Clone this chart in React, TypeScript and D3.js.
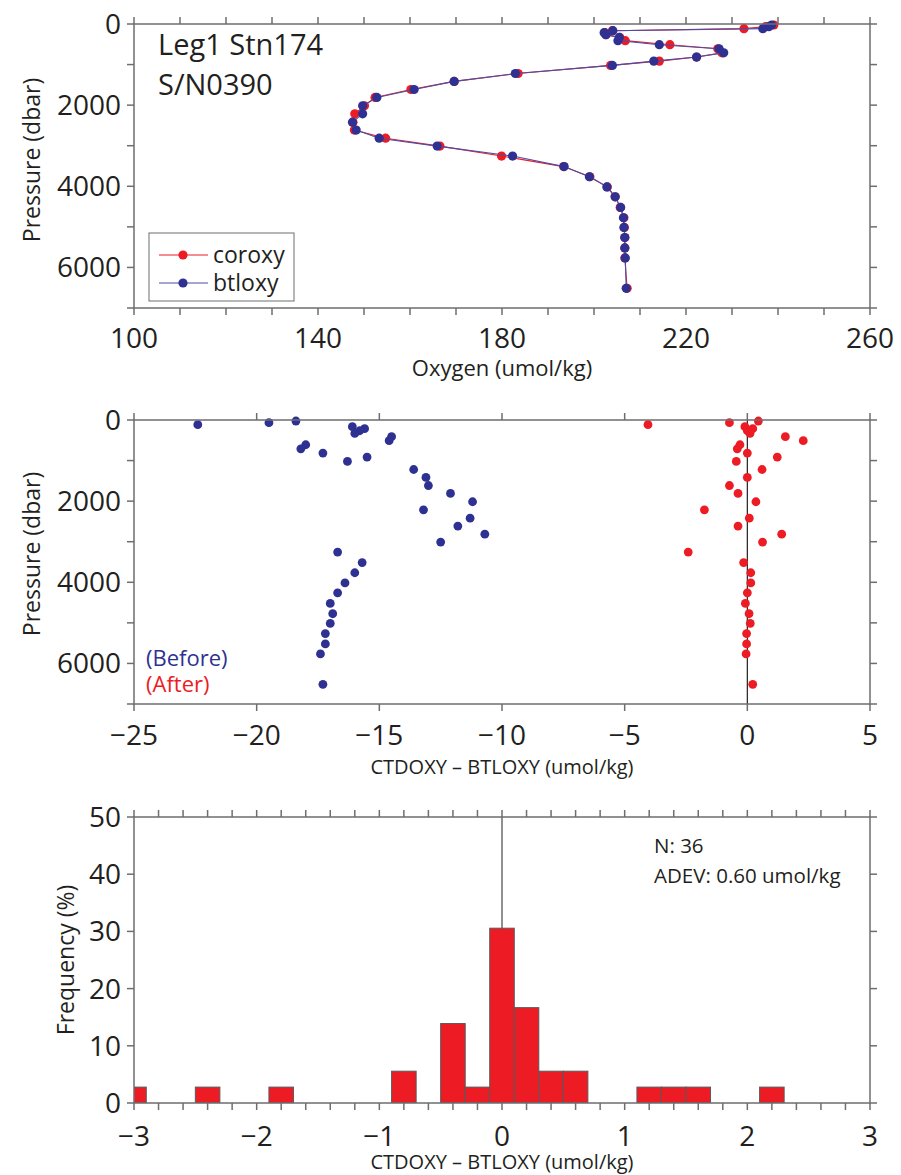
import React from "react";
import * as d3 from "d3";

// ---------- data ----------
const pressure = [25, 65, 115, 165, 215, 265, 330, 410, 510, 610, 710, 815, 915, 1020, 1220, 1415, 1615, 1810, 2015, 2215, 2420, 2615, 2815, 3010, 3255, 3515, 3765, 4015, 4260, 4520, 4775, 5015, 5265, 5520, 5765, 6515];
const btloxy = [238.6, 238.0, 236.7, 204.1, 202.2, 202.6, 205.5, 205.2, 214.2, 227.2, 228.2, 222.3, 213.0, 204.0, 182.9, 169.6, 160.9, 152.8, 149.7, 149.7, 147.5, 148.3, 153.3, 165.9, 182.3, 193.5, 199.0, 202.8, 204.6, 205.8, 206.4, 206.5, 206.7, 206.7, 206.8, 207.0];
const coroxy = [239.1, 237.3, 232.6, 204.0, 202.4, 202.6, 205.6, 206.8, 216.5, 226.9, 227.8, 222.3, 214.2, 203.6, 183.5, 169.6, 160.2, 152.4, 150.1, 148.0, 147.6, 147.9, 154.7, 166.5, 179.9, 193.4, 199.1, 202.9, 204.6, 205.7, 206.5, 206.6, 206.7, 206.7, 206.7, 207.2];
const diffBefore = [-18.4, -19.5, -22.4, -16.1, -15.6, -15.8, -16.0, -14.5, -14.6, -18.0, -18.2, -17.3, -15.5, -16.3, -13.6, -13.1, -13.0, -12.1, -11.2, -13.2, -11.3, -11.8, -10.7, -12.5, -16.7, -15.7, -16.0, -16.4, -16.7, -17.0, -16.9, -17.0, -17.2, -17.2, -17.4, -17.3];
const diffAfter = [0.45, -0.73, -4.05, -0.1, 0.22, 0.0, 0.11, 1.55, 2.28, -0.3, -0.41, 0.0, 1.22, -0.45, 0.6, 0.0, -0.73, -0.38, 0.35, -1.75, 0.08, -0.38, 1.4, 0.62, -2.41, -0.15, 0.14, 0.14, 0.0, -0.08, 0.07, 0.12, -0.03, -0.03, -0.05, 0.22];

const histCenters = [-3.0, -2.4, -1.8, -0.8, -0.4, -0.2, 0.0, 0.2, 0.4, 0.6, 1.2, 1.4, 1.6, 2.2];
const histFreq = [2.78, 2.78, 2.78, 5.56, 13.89, 2.78, 30.56, 16.67, 5.56, 5.56, 2.78, 2.78, 2.78, 2.78];
const histBinWidth = 0.2;

const oxyTickLabels = [100, 140, 180, 220, 260];
const pressTickLabels = [0, 2000, 4000, 6000];
const diffTickLabels = [-25, -20, -15, -10, -5, 0, 5];
const histXTickLabels = [-3, -2, -1, 0, 1, 2, 3];
const histYTickLabels = [0, 10, 20, 30, 40, 50];

// ---------- style ----------
const RED = "#ed1c24";
const BLUE = "#2e3192";
const AXIS = "#6d6e71";
const TXT = "#231f20";
const FONT = "'Open Sans', sans-serif";
const L = 134, R = 870, TICK = 7;

const fmt = (v: number) => (v < 0 ? "\u2212" + Math.abs(v) : String(v));

function Frame({ x, y, xTicks, yTicks }: any) {
  const [x0, x1] = x.range();
  const [y0, y1] = y.range();
  const top = Math.min(y0, y1), bot = Math.max(y0, y1);
  return (
    <g stroke={AXIS} strokeWidth={1.5} fill="none">
      <rect x={x0} y={top} width={x1 - x0} height={bot - top} />
      {xTicks.map((t: number, i: number) => (
        <g key={"x" + i}>
          <line x1={x(t)} x2={x(t)} y1={top} y2={top - TICK} />
          <line x1={x(t)} x2={x(t)} y1={bot} y2={bot + TICK} />
        </g>
      ))}
      {yTicks.map((t: number, i: number) => (
        <g key={"y" + i}>
          <line x1={x0} x2={x0 - TICK} y1={y(t)} y2={y(t)} />
          <line x1={x1} x2={x1 + TICK} y1={y(t)} y2={y(t)} />
        </g>
      ))}
    </g>
  );
}

function TickLabels({ x, y, xLabels, yLabels, xBase }: any) {
  return (
    <g fill={TXT} fontFamily={FONT} fontSize={28}>
      {xLabels.map((t: number) => (
        <text key={"xl" + t} x={x(t)} y={xBase} textAnchor="middle">{fmt(t)}</text>
      ))}
      {yLabels.map((t: number) => (
        <text key={"yl" + t} x={121} y={y(t) + 10} textAnchor="end">{fmt(t)}</text>
      ))}
    </g>
  );
}

export default function App() {
  // Panel 1
  const x1 = d3.scaleLinear().domain([100, 260]).range([L, R]);
  const y1 = d3.scaleLinear().domain([0, 7000]).range([24, 308]);
  // Panel 2
  const x2 = d3.scaleLinear().domain([-25, 5]).range([L, R]);
  const y2 = d3.scaleLinear().domain([0, 7000]).range([420, 704]);
  // Panel 3
  const x3 = d3.scaleLinear().domain([-3, 3]).range([L, R]);
  const y3 = d3.scaleLinear().domain([0, 50]).range([1103, 817]);

  const lineRed = d3.line<number>().x((_, i) => x1(coroxy[i])).y((_, i) => y1(pressure[i]));
  const lineBlue = d3.line<number>().x((_, i) => x1(btloxy[i])).y((_, i) => y1(pressure[i]));

  return (
    <svg width={901} height={1175} style={{ display: "block", position: "absolute", left: 0, top: 0 }}>
      <rect width={901} height={1175} fill="#fff" />
      <defs>
        <clipPath id="histclip">
          <rect x={L} y={817} width={R - L} height={1103 - 817} />
        </clipPath>
      </defs>

      {/* ---------- Panel 1 ---------- */}
      <path d={lineRed(pressure) || ""} fill="none" stroke={RED} strokeWidth={1.1} />
      {pressure.map((p, i) => (
        <circle key={"r" + i} cx={x1(coroxy[i])} cy={y1(p)} r={4.6} fill={RED} />
      ))}
      <path d={lineBlue(pressure) || ""} fill="none" stroke="#4a4ea6" strokeWidth={1.1} />
      {pressure.map((p, i) => (
        <circle key={"b" + i} cx={x1(btloxy[i])} cy={y1(p)} r={4.6} fill={BLUE} />
      ))}
      <Frame x={x1} y={y1} xTicks={d3.range(100, 261, 10)} yTicks={d3.range(0, 7001, 1000)} />
      <TickLabels x={x1} y={y1} xLabels={oxyTickLabels} yLabels={pressTickLabels} xBase={348} />
      <text x={(L + R) / 2} y={376} textAnchor="middle" fontFamily={FONT} fontSize={22} fill={TXT}>Oxygen (umol/kg)</text>
      <text transform={`translate(40,${166 - 6}) rotate(-90)`} textAnchor="middle" fontFamily={FONT} fontSize={23} fill={TXT}>Pressure (dbar)</text>
      <text x={158} y={55} fontFamily={FONT} fontSize={29} fill={TXT}>Leg1 Stn174</text>
      <text x={158} y={95} fontFamily={FONT} fontSize={29} fill={TXT}>S/N0390</text>
      {/* legend */}
      <rect x={149} y={233} width={145} height={68} fill="#fff" stroke={AXIS} strokeWidth={1} />
      <line x1={159} x2={208} y1={255} y2={255} stroke={RED} strokeWidth={1.1} />
      <circle cx={183} cy={255} r={4.6} fill={RED} />
      <text x={213} y={263} fontFamily={FONT} fontSize={23} fill={TXT}>coroxy</text>
      <line x1={159} x2={208} y1={283} y2={283} stroke="#4a4ea6" strokeWidth={1.1} />
      <circle cx={183} cy={283} r={4.6} fill={BLUE} />
      <text x={213} y={291} fontFamily={FONT} fontSize={23} fill={TXT}>btloxy</text>

      {/* ---------- Panel 2 ---------- */}
      <line x1={x2(0)} x2={x2(0)} y1={420} y2={704} stroke={TXT} strokeWidth={1.2} />
      {pressure.map((p, i) => (
        <circle key={"db" + i} cx={x2(diffBefore[i])} cy={y2(p)} r={4.4} fill={BLUE} />
      ))}
      {pressure.map((p, i) => (
        <circle key={"da" + i} cx={x2(diffAfter[i])} cy={y2(p)} r={4.4} fill={RED} />
      ))}
      <Frame x={x2} y={y2} xTicks={diffTickLabels} yTicks={d3.range(0, 7001, 1000)} />
      <TickLabels x={x2} y={y2} xLabels={diffTickLabels} yLabels={pressTickLabels} xBase={745} />
      <text x={(L + R) / 2} y={774} textAnchor="middle" fontFamily={FONT} fontSize={20} fill={TXT}>CTDOXY – BTLOXY (umol/kg)</text>
      <text transform={`translate(40,${562 - 8}) rotate(-90)`} textAnchor="middle" fontFamily={FONT} fontSize={23} fill={TXT}>Pressure (dbar)</text>
      <text x={146} y={666} fontFamily={FONT} fontSize={22} fill={BLUE}>(Before)</text>
      <text x={146} y={692} fontFamily={FONT} fontSize={22} fill={RED}>(After)</text>

      {/* ---------- Panel 3 ---------- */}
      <line x1={x3(0)} x2={x3(0)} y1={817} y2={1103} stroke={TXT} strokeWidth={1} />
      <g clipPath="url(#histclip)">
        {histCenters.map((c, i) => (
          <rect key={"h" + i}
            x={x3(c - histBinWidth / 2)} y={y3(histFreq[i])}
            width={x3(c + histBinWidth / 2) - x3(c - histBinWidth / 2)}
            height={y3(0) - y3(histFreq[i])}
            fill={RED} stroke="#58595b" strokeWidth={1} />
        ))}
      </g>
      <Frame x={x3} y={y3} xTicks={d3.range(-15, 16).map((k) => k * 0.2)} yTicks={d3.range(0, 51, 10)} />
      <TickLabels x={x3} y={y3} xLabels={histXTickLabels} yLabels={histYTickLabels} xBase={1146} />
      <text x={(L + R) / 2} y={1169} textAnchor="middle" fontFamily={FONT} fontSize={20} fill={TXT}>CTDOXY – BTLOXY (umol/kg)</text>
      <text transform={`translate(74,960) rotate(-90)`} textAnchor="middle" fontFamily={FONT} fontSize={23} fill={TXT}>Frequency (%)</text>
      <text x={654} y={853} fontFamily={FONT} fontSize={20.5} fill={TXT}>N: 36</text>
      <text x={654} y={883} fontFamily={FONT} fontSize={20.5} fill={TXT}>ADEV: 0.60 umol/kg</text>
    </svg>
  );
}
